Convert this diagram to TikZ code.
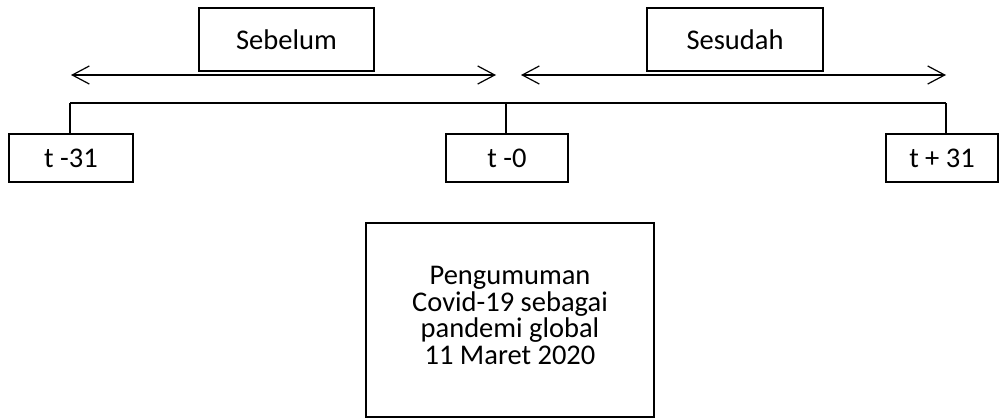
\documentclass[tikz,border=0pt]{standalone}
\usepackage{fontspec}
\setmainfont{Carlito}
\usetikzlibrary{arrows.meta,positioning}
\tikzset{
    period/.style={
           rectangle,
           draw=black, line width=1.6pt,
           minimum height=63pt,
           minimum width=175pt,
           text centered,
           font=\fontsize{28.5}{27}\selectfont
           },
    tick/.style={
           rectangle,
           draw=black, line width=1.6pt,
           minimum height=48pt,
           inner sep=0pt,
           font=\fontsize{28.5}{27}\selectfont
           },
    event/.style={
           rectangle,
           draw=black, line width=1.6pt,
           minimum height=194pt,
           minimum width=288pt,
           align=center,
           font=\fontsize{28.5}{26.7}\selectfont
           },
    bar/.style={
           draw=black, line width=1.2pt
           }
}

\begin{document}
\begin{tikzpicture}[x=1pt, y=-1pt, >={Straight Barb[length=17pt,width=18pt]}]
   \useasboundingbox (0,0) rectangle (1001,418);
   % period labels
   \node[period] (sebelum) at (286.5,39.5) {Sebelum};
   \node[period, minimum width=176pt] (sesudah) at (735,39.5) {Sesudah};
   % time points
   \node[tick, minimum width=124pt] (tm31) at (71,158) {t -31};
   \node[tick, minimum width=122pt] (t0) at (507,158) {t -0};
   \node[tick, minimum width=112pt] (tp31) at (942,158) {t + 31};
   \node[event] (umum) at (510,320) {Pengumuman\\Covid-19 sebagai\\pandemi global\\11 Maret 2020\rule[-9pt]{0pt}{0pt}};
   % arrows
   \coordinate (aL) at (71,75);
   \coordinate (aM) at (496,75);
   \coordinate (bM) at (521,75);
   \coordinate (bR) at (946,75);
   \draw[bar, <->] (aL) -- (aM);
   \draw[bar, <->] (bM) -- (bR);
   % time line
   \coordinate (barL) at (70,103);
   \coordinate (barR) at (946,103);
   \draw[bar] (barL) -- (barR);
   \draw[bar] (barL) -- (barL |- tm31.north);
   \draw[bar] (t0.north -| 506,0) -- (barL -| 506,0);
   \draw[bar] (barR) -- (barR |- tp31.north);
\end{tikzpicture}
\end{document}
